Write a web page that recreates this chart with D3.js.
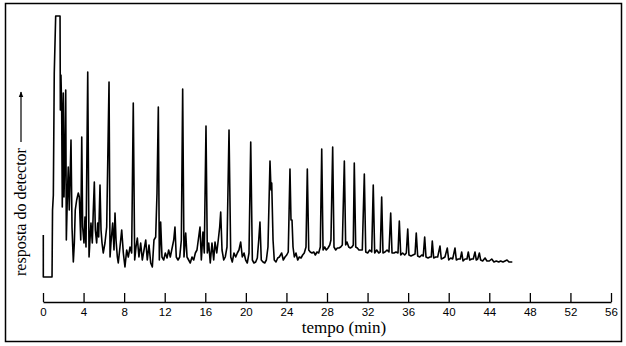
<!DOCTYPE html>
<html>
<head>
<meta charset="utf-8">
<script src="https://cdn.jsdelivr.net/npm/d3@7"></script>
<style>
  html, body { margin: 0; padding: 0; background: #fff; }
  svg { display: block; }
</style>
</head>
<body>
<svg id="chart" width="626" height="346"></svg>
<script>
// Time axis ticks (min)
const timeTicks = [0, 4, 8, 12, 16, 20, 24, 28, 32, 36, 40, 44, 48, 52, 56];

// Chromatogram trace: retention time (min)
const time = [
  0.03, 0.03, 0.89, 0.94, 1.02, 1.11, 1.25, 1.68, 1.71, 1.77, 1.84, 1.90, 2.00, 2.07, 2.17, 2.24,
  2.30, 2.40, 2.49, 2.59, 2.66, 2.76, 2.86, 2.99, 3.09, 3.18, 3.32, 3.48, 3.58, 3.72, 3.82, 3.91,
  4.04, 4.14, 4.24, 4.41, 4.54, 4.63, 4.73, 4.86, 4.96, 5.06, 5.16, 5.29, 5.39, 5.49, 5.62, 5.72,
  5.82, 5.94, 6.11, 6.28, 6.51, 6.61, 6.70, 6.87, 7.00, 7.10, 7.20, 7.33, 7.42, 7.59, 7.76, 7.92,
  8.08, 8.25, 8.41, 8.58, 8.74, 8.90, 9.04, 9.17, 9.30, 9.46, 9.63, 9.79, 9.96, 10.13, 10.28, 10.45,
  10.62, 10.78, 10.94, 11.11, 11.24, 11.37, 11.47, 11.60, 11.73, 11.90, 12.06, 12.23, 12.39, 12.55, 12.75, 12.89,
  13.01, 13.14, 13.31, 13.48, 13.64, 13.77, 13.90, 14.07, 14.20, 14.36, 14.52, 14.69, 14.86, 15.02, 15.18, 15.48,
  15.61, 15.77, 15.90, 16.07, 16.20, 16.34, 16.49, 16.66, 16.83, 16.96, 17.13, 17.28, 17.42, 17.52, 17.65, 17.82,
  17.97, 18.14, 18.34, 18.51, 18.66, 18.83, 19.00, 19.16, 19.32, 19.49, 19.65, 19.82, 19.98, 20.14, 20.31, 20.48,
  20.64, 20.80, 20.97, 21.13, 21.27, 21.39, 21.52, 21.69, 21.86, 22.02, 22.18, 22.38, 22.48, 22.55, 22.68, 22.80,
  22.97, 23.14, 23.30, 23.53, 23.69, 23.86, 24.03, 24.18, 24.35, 24.45, 24.55, 24.65, 24.78, 24.94, 25.11, 25.27,
  25.44, 25.60, 25.76, 25.93, 26.06, 26.20, 26.35, 26.52, 26.69, 26.85, 27.01, 27.18, 27.34, 27.48, 27.61, 27.77,
  27.93, 28.10, 28.27, 28.39, 28.56, 28.69, 28.86, 29.02, 29.18, 29.35, 29.51, 29.71, 29.84, 29.97, 30.14, 30.30,
  30.46, 30.59, 30.69, 30.83, 30.99, 31.15, 31.48, 31.68, 31.82, 32.01, 32.21, 32.41, 32.56, 32.70, 32.90, 33.10,
  33.25, 33.39, 33.52, 33.72, 33.92, 34.11, 34.28, 34.41, 34.61, 34.80, 35.00, 35.13, 35.27, 35.46, 35.66, 35.82,
  35.96, 36.08, 36.28, 36.48, 36.68, 36.80, 36.94, 37.14, 37.34, 37.49, 37.63, 37.76, 37.96, 38.15, 38.28, 38.38,
  38.52, 38.72, 38.91, 39.14, 39.27, 39.47, 39.63, 39.86, 40.00, 40.20, 40.39, 40.62, 40.75, 40.94, 41.14, 41.28,
  41.41, 41.61, 41.80, 41.93, 42.07, 42.27, 42.42, 42.59, 42.72, 42.86, 43.02, 43.15, 43.35, 43.58, 43.77, 44.00,
  44.24, 44.46, 44.69, 44.93, 45.12, 45.35, 45.55, 45.75, 45.94, 46.27
];

// Detector response (arbitrary units, 26.4 = off scale)
const response = [
  4.5, 0.3, 0.3, 7.0, 8.5, 20.7, 26.4, 26.4, 17.0, 20.5, 17.3, 7.3, 18.7, 8.3, 13.0, 19.0,
  4.0, 8.3, 11.3, 7.0, 9.7, 14.0, 5.3, 1.8, 3.7, 7.0, 8.0, 8.7, 8.3, 4.0, 14.3, 5.3,
  3.7, 6.3, 3.3, 20.8, 2.3, 4.0, 5.7, 3.7, 7.0, 9.8, 5.0, 3.7, 5.7, 4.3, 9.5, 5.0,
  3.7, 2.7, 3.7, 5.3, 19.8, 2.3, 3.7, 5.7, 3.0, 6.7, 4.0, 2.3, 1.7, 3.3, 5.0, 2.7,
  1.3, 3.0, 2.3, 3.3, 2.7, 17.7, 2.0, 3.3, 4.2, 2.3, 3.7, 2.0, 3.0, 4.0, 2.0, 3.5,
  1.7, 1.3, 4.0, 4.3, 8.7, 17.3, 2.0, 5.8, 2.3, 2.0, 2.7, 2.2, 3.0, 2.3, 3.3, 4.0,
  5.3, 2.3, 2.0, 2.3, 4.0, 19.1, 2.3, 4.7, 2.3, 2.0, 1.7, 2.3, 2.0, 2.7, 3.0, 5.3,
  2.0, 4.8, 2.7, 15.4, 2.7, 3.7, 1.7, 3.7, 2.0, 3.8, 2.7, 4.0, 5.3, 6.8, 3.0, 2.0,
  2.3, 3.3, 15.0, 2.3, 1.8, 2.7, 2.3, 2.7, 3.0, 3.8, 2.3, 2.7, 2.0, 1.7, 2.7, 13.8,
  2.0, 1.7, 1.8, 2.2, 4.0, 5.8, 2.0, 1.8, 1.7, 2.0, 3.3, 11.9, 9.0, 9.7, 4.0, 2.0,
  1.8, 2.2, 2.3, 2.7, 2.0, 2.3, 2.5, 2.8, 11.1, 6.0, 6.0, 3.3, 2.3, 2.7, 2.0, 2.3,
  2.2, 2.5, 2.7, 3.3, 11.1, 3.0, 2.8, 2.7, 2.8, 2.5, 2.8, 2.7, 3.3, 13.1, 3.0, 3.3,
  3.0, 3.2, 3.5, 4.0, 13.3, 3.3, 3.0, 3.2, 3.2, 3.3, 3.5, 11.9, 3.5, 3.8, 3.3, 3.2,
  3.3, 3.5, 11.7, 3.3, 3.2, 3.0, 3.0, 10.6, 2.8, 2.7, 3.0, 2.8, 9.5, 2.7, 3.0, 2.7,
  2.8, 8.3, 2.7, 2.8, 3.0, 2.8, 6.7, 2.7, 2.7, 2.8, 2.7, 5.9, 2.5, 2.7, 2.5, 2.7,
  5.1, 2.5, 2.4, 2.5, 2.6, 4.7, 2.4, 2.3, 2.5, 2.4, 4.3, 2.3, 2.2, 2.3, 2.3, 3.9,
  2.2, 2.3, 2.3, 3.4, 2.1, 2.2, 2.3, 3.2, 2.0, 2.2, 2.1, 3.2, 2.0, 2.1, 2.1, 2.8,
  1.9, 2.1, 2.1, 2.8, 2.0, 2.1, 2.1, 2.8, 2.0, 2.1, 2.7, 2.0, 1.9, 2.2, 1.9, 1.9,
  2.1, 1.8, 1.9, 1.8, 1.9, 1.8, 1.9, 2.0, 1.8, 1.8
];

const xLabel = "tempo (min)";
const yLabel = "resposta do detector";

const svg = d3.select("#chart");

// frame
svg.append("rect")
  .attr("x", 5.5).attr("y", 3.5)
  .attr("width", 616).attr("height", 338)
  .attr("fill", "none").attr("stroke", "#000").attr("stroke-width", 1.5);

const x = d3.scaleLinear().domain([0, 56]).range([43, 611]);
const y = d3.scaleLinear().domain([0, 26.4]).range([280, 16]);

// axis
const axis = d3.axisBottom(x)
  .tickValues(timeTicks)
  .tickSizeInner(-9)
  .tickSizeOuter(0)
  .tickPadding(6)
  .tickFormat(d3.format("d"));

const gAxis = svg.append("g")
  .attr("transform", "translate(0,302)")
  .call(axis);
gAxis.select(".domain").attr("stroke", "#000").attr("stroke-width", 1.3);
gAxis.selectAll(".tick line").attr("stroke", "#000").attr("stroke-width", 1.3);
gAxis.selectAll(".tick text")
  .attr("fill", "#000")
  .style("font-family", "'Liberation Sans', Arial, sans-serif")
  .style("font-size", "11.5px");

// x label
svg.append("text")
  .attr("x", 344).attr("y", 333)
  .attr("text-anchor", "middle")
  .style("font-family", "'Liberation Serif', 'Times New Roman', serif")
  .style("font-size", "17px")
  .attr("fill", "#000")
  .text(xLabel);

// y label
svg.append("text")
  .attr("transform", "translate(26,276) rotate(-90)")
  .attr("text-anchor", "start")
  .style("font-family", "'Liberation Serif', 'Times New Roman', serif")
  .style("font-size", "16px")
  .attr("fill", "#000")
  .text(yLabel);

// arrow
svg.append("defs").append("marker")
  .attr("id", "ah").attr("viewBox", "0 0 10 10")
  .attr("refX", 9).attr("refY", 5)
  .attr("markerWidth", 5).attr("markerHeight", 6)
  .attr("orient", "auto")
  .append("path").attr("d", "M0,1 L10,5 L0,9 Z").attr("fill", "#000");
svg.append("line")
  .attr("x1", 21).attr("y1", 142).attr("x2", 21).attr("y2", 92)
  .attr("stroke", "#000").attr("stroke-width", 1.2)
  .attr("marker-end", "url(#ah)");

// trace
const pts = time.map((t, i) => [t, response[i]]);
const line = d3.line().x(d => x(d[0])).y(d => y(d[1]));
svg.append("path")
  .datum(pts)
  .attr("d", line)
  .attr("fill", "none")
  .attr("stroke", "#000")
  .attr("stroke-width", 1.6)
  .attr("stroke-linejoin", "round");
</script>
</body>
</html>
